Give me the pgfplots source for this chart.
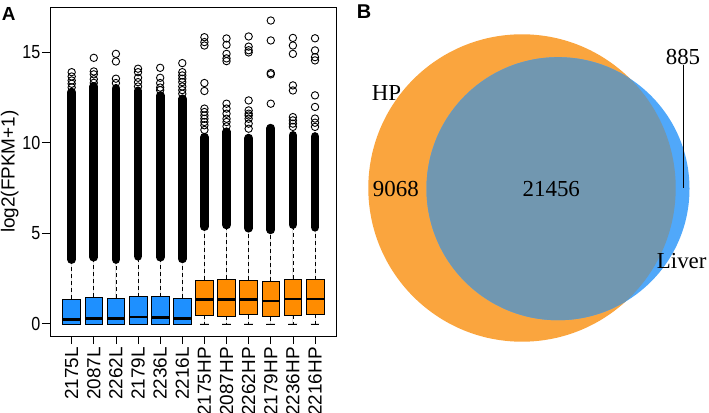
\documentclass[border=0pt]{standalone}
\usepackage{pgfplots}
\pgfplotsset{compat=1.18}
\usepgfplotslibrary{statistics}
\usepackage{fontspec}
\setmainfont{Liberation Serif}
\setsansfont{Liberation Sans}
\newfontfamily\narrowsans[FakeStretch=0.85]{Liberation Sans}
\newcommand\axfont{\sffamily\fontsize{19}{22}\selectfont}
\newcommand\narrowfont{\narrowsans\fontsize{19}{22}\selectfont}
\newcommand\vennfont{\rmfamily\fontsize{23}{26}\selectfont}
\definecolor{Lblue}{RGB}{30,144,255}
\definecolor{Horange}{RGB}{255,140,0}
\definecolor{vennorange}{RGB}{250,165,62}
\definecolor{vennblue}{RGB}{80,168,250}
\definecolor{vennover}{RGB}{113,151,176}
% pos, lower whisker, q1, median, q3, colour, dense outliers bottom, dense outliers top
\newcommand{\rbox}[8]{%
  \addplot[boxplot prepared={draw position=#1, lower whisker=#2, lower quartile=#3,
      median=#4, upper quartile=#5, upper whisker=#7, box extend=0.8, whisker extend=0.4},
      draw=black, fill=#6, line width=0.7bp] coordinates {};
  \addplot[black, line width=8.8bp, line cap=round] coordinates {(#1,#7) (#1,#8)};
}
\begin{document}
\begin{tikzpicture}
\path[use as bounding box] (0,0) rectangle (709bp,413bp);
\begin{axis}[
  at={(50bp,77bp)}, anchor=south west,
  scale only axis, width=286.7bp, height=328.7bp,
  xmin=0.02, xmax=12.98, ymin=-0.67, ymax=17.47,
  axis line style={line width=0.8bp},
  tick style={line width=0.8bp, black},
  tick align=outside, major tick length=8bp,
  tick pos=left,
  xtick={1,...,12},
  xticklabels={2175L,2087L,2262L,2179L,2236L,2216L,2175HP,2087HP,2262HP,2179HP,2236HP,2216HP},
  x tick label style={rotate=90, anchor=east, font=\axfont, inner sep=3bp},
  ytick={0,5,10,15},
  y tick label style={font=\narrowfont, inner sep=1.5bp},
  /pgf/number format/assume math mode=true,
  ylabel={log2(FPKM+1)},
  ylabel style={font=\axfont, at={(axis description cs:-0.172,0.5)}, anchor=north, inner sep=0pt},
  boxplot/draw direction=y,
  boxplot/every median/.style={line width=2.6bp, black},
  boxplot/draw/lower whisker/.code={%
    \draw[black, line width=0.7bp, dash pattern=on 4bp off 3bp]
      (boxplot box cs:\pgfplotsboxplotvalue{lower quartile},0.5) -- (boxplot box cs:\pgfplotsboxplotvalue{lower whisker},0.5);
    \draw[black, line width=0.7bp, solid]
      (boxplot whisker cs:\pgfplotsboxplotvalue{lower whisker},0) -- (boxplot whisker cs:\pgfplotsboxplotvalue{lower whisker},1);
  },
  boxplot/draw/upper whisker/.code={%
    \draw[black, line width=0.7bp, dash pattern=on 4bp off 3bp]
      (boxplot box cs:\pgfplotsboxplotvalue{upper quartile},0.5) -- (boxplot box cs:\pgfplotsboxplotvalue{upper whisker},0.5);
  },
]
\rbox{1}{0}{0}{0.25}{1.37}{Lblue}{3.55}{12.79}
\rbox{2}{0}{0}{0.30}{1.46}{Lblue}{3.68}{13.10}
\rbox{3}{0}{0}{0.30}{1.40}{Lblue}{3.55}{13.00}
\rbox{4}{0}{0}{0.38}{1.50}{Lblue}{3.73}{12.86}
\rbox{5}{0}{0}{0.36}{1.50}{Lblue}{3.68}{12.60}
\rbox{6}{0}{0}{0.31}{1.43}{Lblue}{3.59}{12.42}
\rbox{7}{0}{0.48}{1.36}{2.42}{Horange}{5.37}{10.30}
\rbox{8}{0}{0.44}{1.36}{2.46}{Horange}{5.46}{10.60}
\rbox{9}{0}{0.50}{1.36}{2.42}{Horange}{5.28}{10.25}
\rbox{10}{0}{0.40}{1.27}{2.35}{Horange}{5.19}{10.80}
\rbox{11}{0}{0.48}{1.38}{2.48}{Horange}{5.48}{10.40}
\rbox{12}{0}{0.52}{1.38}{2.44}{Horange}{5.33}{10.34}
\addplot[only marks, mark=o, mark size=3.7bp, mark options={line width=0.9bp, black}] coordinates {
 (1,13.05) (1,13.25) (1,13.43) (1,13.65) (1,13.89)
 (2,13.30) (2,13.50) (2,13.77) (2,13.93) (2,14.68)
 (3,13.29) (3,13.53) (3,14.48) (3,14.90)
 (4,13.10) (4,13.34) (4,13.58) (4,13.89) (4,14.08)
 (5,12.90) (5,13.04) (5,13.29) (5,13.58) (5,14.13)
 (6,12.70) (6,12.90) (6,13.10) (6,13.34) (6,13.53) (6,13.71) (6,13.89) (6,14.39)
 (7,10.70) (7,10.96) (7,11.14) (7,11.32) (7,11.50) (7,11.69) (7,11.88) (7,12.85) (7,13.29) (7,15.36) (7,15.55) (7,15.82)
 (8,10.90) (8,11.14) (8,11.32) (8,11.60) (8,11.88) (8,12.15) (8,14.50) (8,14.65) (8,14.90) (8,15.40) (8,15.75)
 (9,10.77) (9,11.05) (9,11.32) (9,11.50) (9,11.60) (9,11.78) (9,12.33) (9,14.98) (9,15.10) (9,15.30) (9,15.86)
 (10,12.15) (10,13.77) (10,13.84) (10,15.64) (10,16.74)
 (11,10.87) (11,11.05) (11,11.23) (11,11.41) (11,12.88) (11,13.16) (11,14.90) (11,15.36) (11,15.78)
 (12,10.87) (12,11.10) (12,11.33) (12,11.97) (12,12.61) (12,14.54) (12,14.72) (12,15.09) (12,15.76)
};
\end{axis}
\begin{axis}[
  at={(340bp,0bp)}, anchor=south west,
  scale only axis, width=369bp, height=413bp,
  xmin=340, xmax=709, ymin=0, ymax=413,
  hide axis, clip=false,
]
\addplot[draw=none] coordinates {(522,225) (558,224.3)};
\fill[vennorange] (axis cs:522,225) circle[radius=153.7bp];
\fill[vennblue] (axis cs:558,224.3) circle[radius=131.5bp];
\begin{scope}
\clip (axis cs:522,225) circle[radius=153.7bp];
\fill[vennover] (axis cs:558,224.3) circle[radius=131.5bp];
\end{scope}
\draw[line width=0.9bp] (axis cs:683.3,348) -- (axis cs:683.3,225);
\node[font=\vennfont, anchor=base west, inner sep=0pt] at (axis cs:371.7,312.3) {HP};
\node[font=\vennfont, anchor=base west, inner sep=0pt] at (axis cs:372.7,216.3) {9068};
\node[font=\vennfont, anchor=base, inner sep=0pt] at (axis cs:551.3,216.3) {21456};
\node[font=\vennfont, anchor=base, inner sep=0pt] at (axis cs:683,348) {885};
\node[font=\vennfont, anchor=base west, inner sep=0pt] at (axis cs:656.7,144.7) {Liver};
\end{axis}
\node[anchor=north west, inner sep=0pt, font=\sffamily\bfseries\fontsize{19}{21}\selectfont] at (1.7bp,405.7bp) {A};
\node[anchor=north west, inner sep=0pt, font=\sffamily\bfseries\fontsize{20}{22}\selectfont] at (356.7bp,408bp) {B};
\end{tikzpicture}
\end{document}
